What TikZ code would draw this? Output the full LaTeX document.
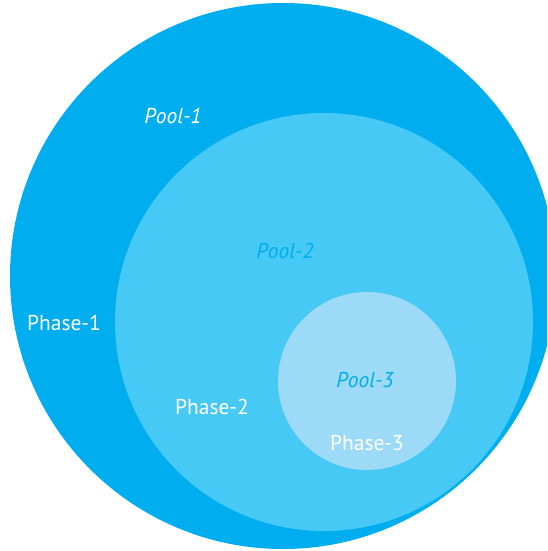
\documentclass[tikz,border=0pt]{standalone}
\usepackage{fontspec}
\setmainfont{PT Sans}
\definecolor{poolA}{HTML}{00AEEF}
\definecolor{poolB}{HTML}{47C9F5}
\definecolor{poolC}{HTML}{9DDAF8}
\begin{document}
\begin{tikzpicture}[x=1pt,y=-1pt,
		lbl/.style={font=\fontsize{21.5}{25}\selectfont, text=white},
		pool/.style={font=\fontsize{21.5}{25}\selectfont\itshape}]
		\useasboundingbox (0,0) rectangle (547,551);
		\clip (0,0) rectangle (547,551);
		
		\fill[poolA] (283,276) circle (273pt);
		\fill[poolB] (324,322) circle (209pt);
		\fill[poolC] (367,381) circle (89pt);
		
		\node[pool, text=white] (p1) at (173,116) {Pool-1};
		\node[pool, text=poolA] (p2) at (285,251) {Pool-2};
		\node[pool, text=poolA] (p3) at (365,380) {Pool-3};
		
		\node[lbl] (h1) at (64,323) {Phase-1};
		\node[lbl] (h2) at (212,407) {Phase-2};
		\node[lbl] (h3) at (367,443) {Phase-3};
		
		\end{tikzpicture}
\end{document}
